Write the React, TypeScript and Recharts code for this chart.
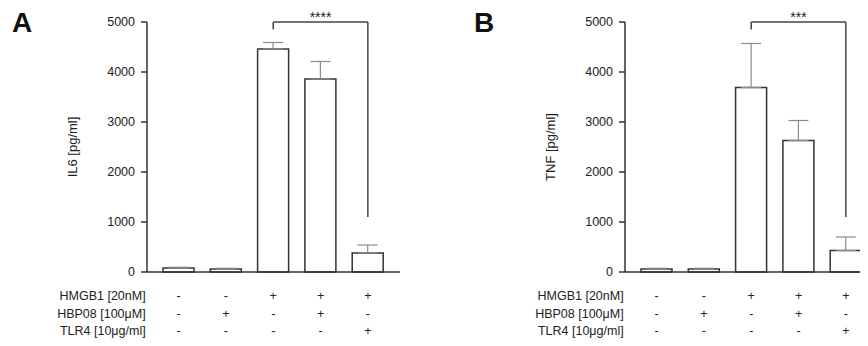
import React from 'react';
import { BarChart, Bar, XAxis, YAxis, ErrorBar, ReferenceLine, ReferenceDot } from 'recharts';

const groups = ['g1', 'g2', 'g3', 'g4', 'g5'];
const il6Values = [80, 60, 4460, 3860, 380];
const il6Errors = [15, 15, 130, 350, 160];
const tnfValues = [60, 60, 3690, 2630, 430];
const tnfErrors = [15, 15, 880, 400, 270];
const rowNames = ['HMGB1 [20nM]', 'HBP08 [100\u03bcM]', 'TLR4 [10\u03bcg/ml]'];
const hmgb1 = ['-', '-', '+', '+', '+'];
const hbp08 = ['-', '+', '-', '+', '-'];
const tlr4 = ['-', '-', '-', '-', '+'];
const rows = [hmgb1, hbp08, tlr4];
const yTicks = [0, 1000, 2000, 3000, 4000, 5000];

const FONT = '"Liberation Sans", Arial, sans-serif';
const TEXT = '#222';

const build = (vals: number[], errs: number[]) =>
  groups.map((g, i) => ({ id: g, value: vals[i], err: [0, errs[i]] }));

const XTick = (props: any) => {
  const { x, y, index } = props;
  return (
    <g>
      {index === 0 &&
        rowNames.map((n, i) => (
          <text key={n} x={x - 33} y={y + 28 + i * 17.5} textAnchor="end" fontSize={12.5} fill={TEXT} fontFamily={FONT}>
            {n}
          </text>
        ))}
      {rows.map((r, i) => (
        <text key={i} x={x} y={y + 28 + i * 17.5} textAnchor="middle" fontSize={12.5} fill={TEXT} fontFamily={FONT}>
          {r[index]}
        </text>
      ))}
    </g>
  );
};

const Panel = ({ vals, errs, yLabel, stars }: { vals: number[]; errs: number[]; yLabel: string; stars: string }) => {
  const data = build(vals, errs);
  return (
    <BarChart width={410} height={346} data={data} margin={{ top: 22, right: 10, bottom: 0, left: 67 }}>
      <XAxis
        dataKey="id"
        height={74}
        padding={{ left: 8, right: 8.5 }}
        tickLine={false}
        tickSize={0}
        tickMargin={0}
        axisLine={{ stroke: '#333', strokeWidth: 1.5 }}
        tick={<XTick />}
        interval={0}
      />
      <YAxis
        width={80}
        domain={[0, 5000]}
        ticks={yTicks}
        tickSize={6}
        tickMargin={6}
        axisLine={{ stroke: '#333', strokeWidth: 1.5 }}
        tickLine={{ stroke: '#333', strokeWidth: 1.5 }}
        tick={{ fontSize: 12.5, fill: TEXT, fontFamily: FONT }}
        label={{
          content: (p: any) => {
            const vb = p.viewBox;
            const cx = vb.x + 10;
            const cy = vb.y + vb.height / 2;
            return (
              <text x={cx} y={cy} transform={`rotate(-90, ${cx}, ${cy})`} textAnchor="middle" fontSize={13} fill={TEXT} fontFamily={FONT}>
                {yLabel}
              </text>
            );
          },
        }}
      />
      <Bar dataKey="value" barSize={31} fill="#ffffff" stroke="#333" strokeWidth={1.5} isAnimationActive={false}>
        <ErrorBar dataKey="err" width={10} stroke="#8a8a8a" strokeWidth={1.2} direction="y" />
      </Bar>
      <ReferenceLine segment={[{ x: 'g3', y: 5000 }, { x: 'g5', y: 5000 }]} stroke="#444" strokeWidth={1.5} ifOverflow="visible" />
      <ReferenceLine segment={[{ x: 'g3', y: 5000 }, { x: 'g3', y: 4850 }]} stroke="#444" strokeWidth={1.5} ifOverflow="visible" />
      <ReferenceLine segment={[{ x: 'g5', y: 5000 }, { x: 'g5', y: 1100 }]} stroke="#444" strokeWidth={1.5} ifOverflow="visible" />
      <ReferenceDot
        x="g4"
        y={5000}
        r={0}
        ifOverflow="visible"
        label={{ value: stars, position: 'top', offset: 0, fontSize: 14, fill: TEXT, fontFamily: FONT }}
      />
    </BarChart>
  );
};

export default function App() {
  return (
    <div style={{ position: 'relative', width: 868, height: 346, overflow: 'hidden', margin: -8, background: '#fff' }}>
      <div style={{ position: 'absolute', left: 0, top: 0 }}>
        <Panel vals={il6Values} errs={il6Errors} yLabel="IL6 [pg/ml]" stars="****" />
      </div>
      <div style={{ position: 'absolute', left: 478, top: 0 }}>
        <Panel vals={tnfValues} errs={tnfErrors} yLabel="TNF [pg/ml]" stars="***" />
      </div>
      <svg width={868} height={346} style={{ position: 'absolute', left: 0, top: 0, pointerEvents: 'none' }}>
        <text x={12} y={32} fontSize={28} fontWeight="bold" fill="#111" fontFamily={FONT}>A</text>
        <text x={474} y={32} fontSize={28} fontWeight="bold" fill="#111" fontFamily={FONT}>B</text>
      </svg>
    </div>
  );
}
